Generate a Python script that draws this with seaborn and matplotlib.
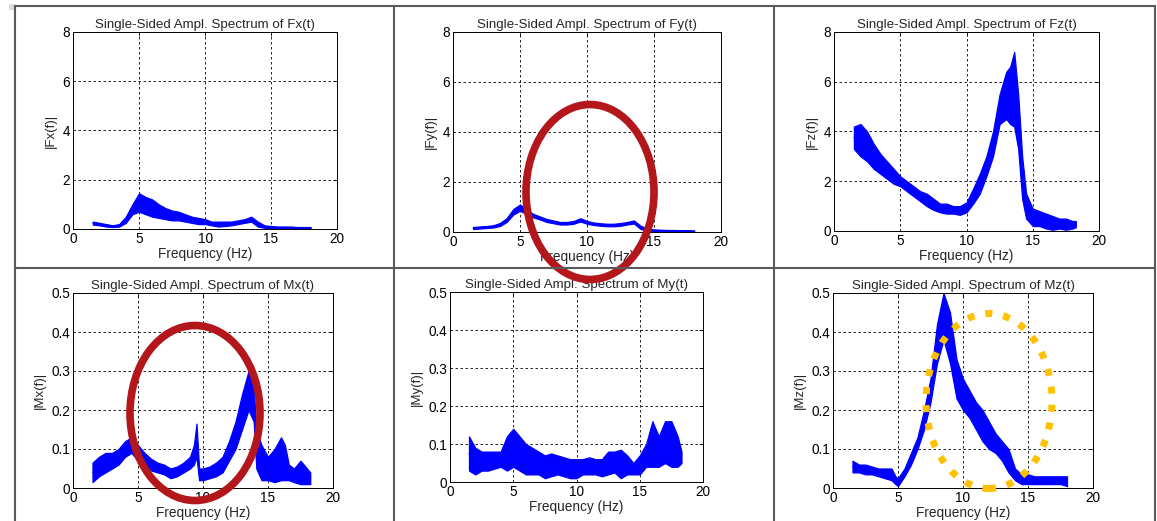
import matplotlib
matplotlib.use("Agg")
import matplotlib.pyplot as plt
from matplotlib.patches import Ellipse, Rectangle
from matplotlib.lines import Line2D
import pandas as pd
import seaborn as sns

# spectrum envelopes (lo / hi of the noisy trace)
fx_freq = [1.5, 2, 2.5, 3, 3.5, 4, 4.5, 5, 5.5, 6, 6.5, 7, 7.5, 8, 8.5, 9, 9.5, 10, 10.5, 11,
           11.5, 12, 12.5, 13, 13.5, 14, 14.5, 15, 15.5, 16, 16.5, 17, 17.5, 18]
fx_lo = [.18, .15, .1, .08, .1, .25, .6, .7, .6, .5, .45, .4, .35, .35, .3, .25, .2, .2, .15, .1,
         .12, .15, .2, .25, .3, .1, .05, .03, .02, .02, .02, .02, .01, .01]
fx_hi = [.3, .25, .2, .15, .2, .5, 1.0, 1.45, 1.3, 1.2, 1.0, .85, .75, .7, .6, .5, .45, .4, .3, .3,
         .3, .3, .35, .4, .5, .3, .15, .12, .1, .1, .1, .08, .08, .08]

fy_freq = fx_freq
fy_lo = [.12, .14, .16, .18, .24, .4, .7, .85, .72, .58, .5, .4, .35, .3, .3, .33, .42, .33, .28, .25,
         .23, .23, .25, .3, .34, .12, .06, .04, .03, .03, .02, .02, .02, .01]
fy_hi = [.2, .22, .24, .27, .36, .55, .92, 1.1, .9, .72, .62, .52, .46, .4, .4, .44, .55, .44, .38, .35,
         .33, .33, .36, .4, .46, .25, .13, .1, .09, .08, .08, .07, .07, .06]

fz_freq = [1.5, 2, 2.5, 3, 3.5, 4, 4.5, 5, 5.5, 6, 6.5, 7, 7.5, 8, 8.5, 9, 9.5, 10, 10.5, 11,
           11.5, 12, 12.5, 13, 13.3, 13.6, 13.9, 14.2, 14.5, 15, 15.5, 16, 16.5, 17, 17.5, 18, 18.25]
fz_lo = [3.3, 3.0, 2.8, 2.5, 2.3, 2.1, 1.9, 1.8, 1.6, 1.4, 1.2, 1.0, .85, .75, .7, .7, .65, .75, 1.1, 1.5,
         2.2, 3.0, 4.3, 4.5, 4.3, 4.2, 3.3, 1.3, .5, .2, .2, .1, .05, .1, .05, .1, .15]
fz_hi = [4.2, 4.3, 4.0, 3.5, 3.1, 2.8, 2.5, 2.2, 2.0, 1.8, 1.6, 1.5, 1.3, 1.1, 1.1, 1.0, 1.0, 1.15, 1.7, 2.3,
         3.0, 4.0, 5.5, 6.4, 6.6, 7.2, 5.5, 3.0, 1.5, .9, .8, .7, .6, .5, .5, .4, .4]

mx_freq = [1.5, 2, 2.5, 3, 3.5, 4, 4.5, 5, 5.5, 6, 6.5, 7, 7.5, 8, 8.5, 9, 9.3, 9.5, 9.7, 10,
           10.5, 11, 11.5, 12, 12.5, 13, 13.5, 13.9, 14.1, 14.5, 15, 15.5, 16, 16.3, 16.6, 17, 17.5, 18, 18.25]
mx_lo = [.015, .03, .04, .05, .06, .08, .09, .07, .06, .045, .04, .035, .025, .03, .04, .05, .06, .08, .02, .02,
         .025, .03, .04, .07, .1, .15, .2, .17, .05, .02, .02, .015, .02, .02, .02, .015, .01, .01, .01]
mx_hi = [.065, .08, .09, .09, .1, .12, .13, .11, .09, .075, .065, .06, .05, .055, .065, .08, .11, .165, .05, .05,
         .055, .065, .08, .12, .17, .24, .3, .26, .15, .11, .08, .1, .13, .11, .06, .05, .07, .05, .04]

my_freq = [1.5, 2, 2.5, 3, 3.5, 4, 4.5, 5, 5.5, 6, 6.5, 7, 7.5, 8, 8.5, 9, 9.5, 10, 10.5, 11,
           11.5, 12, 12.5, 13, 13.5, 14, 14.5, 15, 15.5, 16, 16.5, 17, 17.5, 18, 18.3]
my_lo = [.03, .02, .03, .03, .035, .04, .03, .04, .03, .02, .02, .02, .01, .015, .02, .015, .01, .01, .02, .02,
         .02, .015, .02, .025, .01, .02, .02, .02, .04, .04, .04, .05, .04, .04, .05]
my_hi = [.12, .09, .08, .08, .08, .08, .12, .14, .12, .1, .09, .08, .07, .075, .07, .065, .06, .06, .06, .065,
         .06, .06, .08, .08, .085, .07, .05, .07, .1, .16, .12, .16, .16, .12, .08]

mz_freq = [1.5, 2, 2.5, 3, 3.5, 4, 4.5, 4.8, 5, 5.5, 6, 6.5, 7, 7.5, 8, 8.5, 9, 9.5, 10, 10.5,
           11, 11.5, 12, 12.5, 13, 13.5, 14, 14.5, 15, 15.5, 16, 16.5, 17, 17.5, 18]
mz_lo = [.04, .04, .035, .035, .03, .025, .02, .01, .005, .03, .06, .1, .15, .22, .32, .38, .32, .23, .2, .18,
         .15, .12, .1, .09, .07, .04, .02, .01, .01, .01, .01, .01, .01, .01, .005]
mz_hi = [.07, .06, .06, .055, .05, .05, .05, .03, .025, .05, .09, .13, .2, .28, .42, .5, .45, .33, .28, .25,
         .22, .2, .17, .14, .12, .1, .05, .035, .035, .03, .03, .03, .03, .03, .03]

x_ticks = [0, 5, 10, 15, 20]
f_ticks = [0, 2, 4, 6, 8]
f_tick_labels = ["0", "2", "4", "6", "8"]
m_ticks = [0, 0.1, 0.2, 0.3, 0.4, 0.5]
m_tick_labels = ["0", "0.1", "0.2", "0.3", "0.4", "0.5"]

names = ["Fx", "Fy", "Fz", "Mx", "My", "Mz"]
series = [(fx_freq, fx_lo, fx_hi), (fy_freq, fy_lo, fy_hi), (fz_freq, fz_lo, fz_hi),
          (mx_freq, mx_lo, mx_hi), (my_freq, my_lo, my_hi), (mz_freq, mz_lo, mz_hi)]

# axes boxes in pixels: left, right, top, bottom
boxes = [(73, 337, 32, 229), (453, 721, 32, 232), (834, 1099, 32, 231),
         (73, 333, 293, 488), (450, 703, 292, 482), (833, 1093, 293, 488)]

W, H = 1157, 521

sns.set_theme(style="white")
plt.rcParams['font.family'] = ['Liberation Sans', 'DejaVu Sans']

fig = plt.figure(figsize=(W / 100, H / 100), dpi=100)


def draw_panel(ax, name, freq, lo, hi, force):
    df = pd.DataFrame({"freq": list(freq) * 2, "amp": list(lo) + list(hi)})
    sns.lineplot(data=df, x="freq", y="amp", estimator="mean", errorbar=("pi", 100),
                 color="blue", linewidth=0.8, ax=ax,
                 err_kws={"alpha": 1, "linewidth": 0.9, "edgecolor": "blue", "facecolor": "blue"})
    ax.set_xlim(0, 20)
    ax.set_xticks(x_ticks)
    ax.set_xticklabels([str(t) for t in x_ticks])
    if force:
        ax.set_ylim(0, 8)
        ax.set_yticks(f_ticks)
        ax.set_yticklabels(f_tick_labels)
    else:
        ax.set_ylim(0, 0.5)
        ax.set_yticks(m_ticks)
        ax.set_yticklabels(m_tick_labels)
    ax.grid(True, color="black", linestyle=(0, (3, 3)), linewidth=0.6)
    ax.tick_params(direction="in", length=3, width=0.6, top=True, right=True,
                   labelsize=9.8, colors="black", pad=2)
    for s in ax.spines.values():
        s.set_color("black")
        s.set_linewidth(0.7)
    ax.set_title(f"Single-Sided Ampl. Spectrum of {name}(t)", fontsize=9.6, pad=3)
    ax.set_xlabel("Frequency (Hz)", fontsize=9.8, labelpad=1)
    ax.set_ylabel(f"|{name}(f)|", fontsize=9.5, labelpad=4)


for i, (name, (freq, lo, hi), (l, r, t, b)) in enumerate(zip(names, series, boxes)):
    ax = fig.add_axes([l / W, 1 - b / H, (r - l) / W, (b - t) / H])
    draw_panel(ax, name, freq, lo, hi, i < 3)

# table frame
grey = "#5a5a5a"
for x in [15, 394, 774, 1155]:
    fig.add_artist(Line2D([x / W, x / W], [0, 1 - 6 / H], color=grey, linewidth=1.5))
for y in [6, 268]:
    fig.add_artist(Line2D([15 / W, 1155 / W], [1 - y / H, 1 - y / H], color=grey, linewidth=1.5))
fig.add_artist(Rectangle((9 / W, 1 - 10 / H), 6 / W, 6 / H, color="#dddddd", linewidth=0))

# hand-drawn highlight ellipses
red = "#b3161b"
fig.add_artist(Ellipse((590 / W, 1 - 192 / H), 128 / W, 175 / H, fill=False,
                       edgecolor=red, linewidth=5.5))
fig.add_artist(Ellipse((195 / W, 1 - 413 / H), 130 / W, 175 / H, fill=False,
                       edgecolor=red, linewidth=5.5))
fig.add_artist(Ellipse((989 / W, 1 - 401 / H), 126 / W, 175 / H, fill=False,
                       edgecolor="#ffc000", linewidth=5, linestyle=(0, (1, 1.6))))

fig.savefig("out.png", dpi=100, facecolor="white")
